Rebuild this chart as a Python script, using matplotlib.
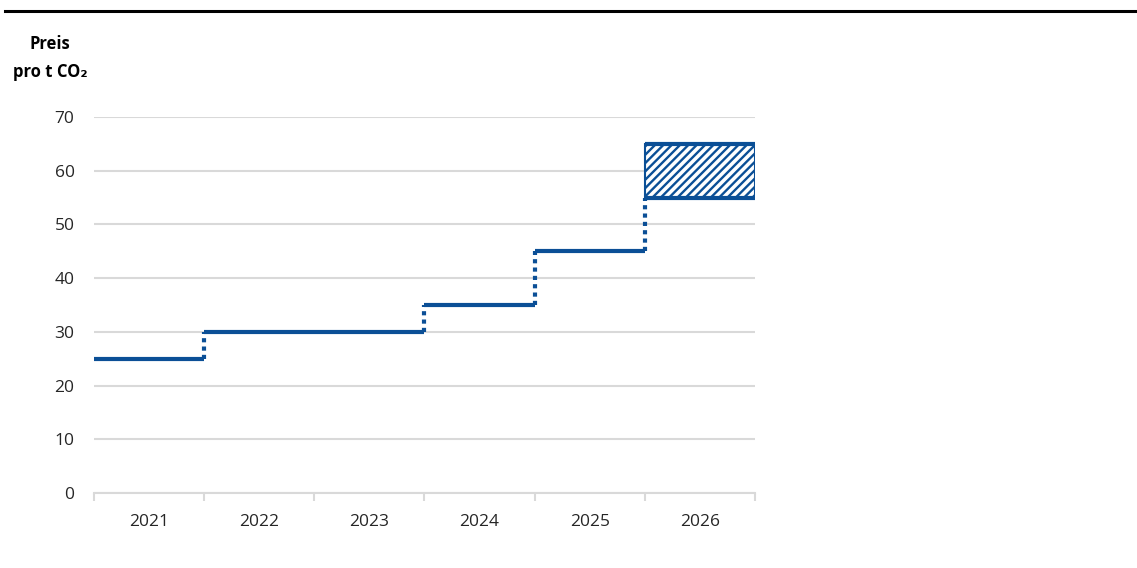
import matplotlib.pyplot as plt
from matplotlib.lines import Line2D
from matplotlib.patches import Rectangle

# values
years = ["2021", "2022", "2023", "2024", "2025", "2026"]
price = [25, 30, 30, 35, 45]      # fixed price per year 2021-2025
band_low, band_high = 55, 65      # price corridor 2026
yticks = [0, 10, 20, 30, 40, 50, 60, 70]

blue = "#0b4f96"
grid = "#d9d9d9"
plt.rcParams['font.family'] = ['Open Sans', 'DejaVu Sans']
plt.rcParams['hatch.color'] = blue
plt.rcParams['hatch.linewidth'] = 1.7

fig = plt.figure(figsize=(11.37, 5.68), dpi=100)
ax = fig.add_axes([94/1137, 1-493/568, (755-94)/1137, (493-117)/568])

# horizontal segments (solid) and jumps (dotted)
for i, p in enumerate(price):
    ax.plot([i, i+1], [p, p], color=blue, lw=3, solid_capstyle='butt', zorder=3)
    nxt = price[i+1] if i+1 < len(price) else band_low
    if nxt != p:
        ax.plot([i+1, i+1], [p, nxt], color=blue, lw=3, linestyle=(0, (1, 1)),
                dash_capstyle='butt', zorder=3)

# hatched band for 2026
n = len(price)
ax.add_patch(Rectangle((n, band_low), 1, band_high-band_low, facecolor='white',
                       edgecolor=blue, hatch='////', lw=1.5, zorder=3))
ax.plot([n, n+1], [band_low, band_low], color=blue, lw=3, solid_capstyle='butt', zorder=4)
ax.plot([n, n+1], [band_high, band_high], color=blue, lw=3, solid_capstyle='butt', zorder=4)

ax.set_xlim(0, len(years))
ax.set_ylim(0, 70)
ax.set_yticks(yticks)
ax.yaxis.grid(True, color=grid, lw=1.5)
ax.set_axisbelow(True)
for s in ['top', 'right', 'left']:
    ax.spines[s].set_visible(False)
ax.spines['bottom'].set_color(grid)
ax.spines['bottom'].set_linewidth(1.5)
ax.tick_params(axis='y', length=0, pad=14, labelsize=12.5, labelcolor='#262626')

ax.set_xticks(range(len(years)+1))
ax.set_xticklabels([])
ax.tick_params(axis='x', which='major', length=6, color=grid, width=1.5)
ax.set_xticks([i+0.5 for i in range(len(years))], minor=True)
ax.set_xticklabels(years, minor=True)
ax.tick_params(axis='x', which='minor', length=0, pad=15, labelsize=12.5, labelcolor='#262626')

fig.text(50/1137, 1-44/568, "Preis", ha='center', va='center', fontsize=12, fontweight='bold')
fig.text(50/1137, 1-72/568, "pro t CO₂", ha='center', va='center', fontsize=12, fontweight='bold')

# rule across the top
fig.add_artist(Line2D([5/1137, 1], [1-11/568, 1-11/568], color='black', lw=2.2))

fig.savefig("out.png", dpi=100)
